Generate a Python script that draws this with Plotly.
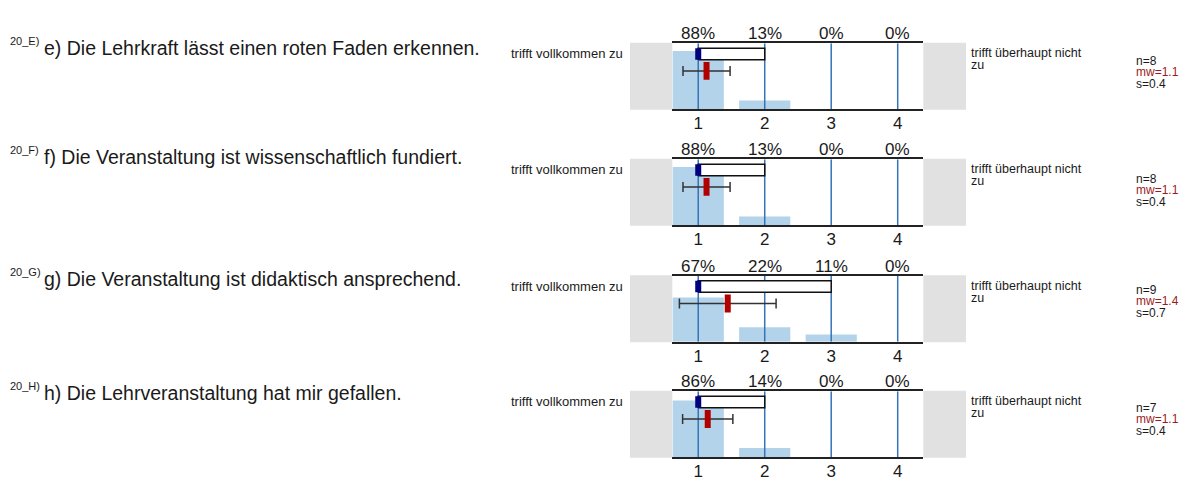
import plotly.graph_objects as go

# ---------------- data ----------------
codes = ["20_E)", "20_F)", "20_G)", "20_H)"]
questions = [
    "e) Die Lehrkraft lässt einen roten Faden erkennen.",
    "f) Die Veranstaltung ist wissenschaftlich fundiert.",
    "g) Die Veranstaltung ist didaktisch ansprechend.",
    "h) Die Lehrveranstaltung hat mir gefallen.",
]
categories = [1, 2, 3, 4]
tick_labels = ["1", "2", "3", "4"]
pct_e = [88, 13, 0, 0]
pct_f = [88, 13, 0, 0]
pct_g = [67, 22, 11, 0]
pct_h = [86, 14, 0, 0]
percents = [pct_e, pct_f, pct_g, pct_h]
n_values = [8, 8, 9, 7]
means = [1.125, 1.125, 1.444, 1.143]
sds = [0.354, 0.354, 0.727, 0.378]
mw_labels = ["1.1", "1.1", "1.4", "1.1"]
s_labels = ["0.4", "0.4", "0.7", "0.4"]
medians = [1, 1, 1, 1]
mins = [1, 1, 1, 1]
maxs = [2, 2, 3, 2]
left_label = "trifft vollkommen zu"
right_label = ["trifft überhaupt nicht", "zu"]

# ---------------- layout constants (page pixels) ----------------
PAGE_W, PAGE_H = 1189, 481
OX, OY = 8, 8            # default body margin of the html page
W, H = PAGE_W - OX, PAGE_H - OY
tops = [43.5, 160.5, 278.0, 394.5]
PH = 66.5
PX0, PX1 = 672.3, 923.3
q_centers = [48.5, 158.5, 281.0, 396.5]
n_y = [61, 180, 292, 411]
mw_y = [73, 192, 304, 423]
s_y = [85, 204, 316, 435]

FONT = "Arial, Liberation Sans, sans-serif"
BAR_C = "#b3d3ea"
VLINE_C = "#3574b9"
GREY = "#e1e1e1"
NAVY = "#00007f"
RED = "#b00000"
TXT = "#1a1a1a"


def px(x):
    return (x - OX) / W


def py(y):
    return 1 - (y - OY) / H


fig = go.Figure()
annotations = []
shapes = []

for i in range(4):
    xa = "x" if i == 0 else f"x{i+1}"
    ya = "y" if i == 0 else f"y{i+1}"
    top = tops[i]
    bot = top + PH

    # bars
    fig.add_trace(go.Bar(x=categories, y=percents[i], width=0.77,
                         marker=dict(color=BAR_C, line=dict(width=0)),
                         xaxis=xa, yaxis=ya, showlegend=False, hoverinfo="skip"))
    # vertical lines at categories
    vx, vy = [], []
    for c in categories:
        vx += [c, c, None]
        vy += [0, 100, None]
    fig.add_trace(go.Scatter(x=vx, y=vy, mode="lines",
                             line=dict(color=VLINE_C, width=1.5),
                             xaxis=xa, yaxis=ya, showlegend=False, hoverinfo="skip"))
    # range box (min..max)
    r0, r1 = 75, 92.5
    fig.add_trace(go.Scatter(x=[mins[i], maxs[i], maxs[i], mins[i], mins[i]],
                             y=[r0, r0, r1, r1, r0], mode="lines", fill="toself",
                             fillcolor="white", line=dict(color="#111", width=1.5),
                             xaxis=xa, yaxis=ya, showlegend=False, hoverinfo="skip"))
    # median marker
    fig.add_trace(go.Scatter(x=[medians[i], medians[i]], y=[r0, r1], mode="lines",
                             line=dict(color=NAVY, width=6),
                             xaxis=xa, yaxis=ya, showlegend=False, hoverinfo="skip"))
    # mean +- sd
    ey = 57.9
    fig.add_trace(go.Scatter(x=[means[i]], y=[ey], mode="markers",
                             marker=dict(size=1, color="rgba(0,0,0,0)"),
                             error_x=dict(type="data", array=[sds[i]], symmetric=True,
                                          color="#333", thickness=1.5, width=5),
                             xaxis=xa, yaxis=ya, showlegend=False, hoverinfo="skip"))
    fig.add_trace(go.Scatter(x=[means[i], means[i]], y=[44.4, 71.4], mode="lines",
                             line=dict(color=RED, width=6),
                             xaxis=xa, yaxis=ya, showlegend=False, hoverinfo="skip"))

    # axes
    xkey = "xaxis" if i == 0 else f"xaxis{i+1}"
    ykey = "yaxis" if i == 0 else f"yaxis{i+1}"
    fig.update_layout({
        xkey: dict(domain=[px(PX0), px(PX1)], anchor=ya, range=[0.61, 4.385],
                   tickvals=categories, ticktext=tick_labels, showgrid=False,
                   zeroline=False, showline=True, mirror=True, linecolor="#222",
                   linewidth=1.8, ticks="", ticklabelstandoff=-2,
                   tickfont=dict(family=FONT, size=17, color=TXT),
                   fixedrange=True),
        ykey: dict(domain=[py(bot), py(top)], anchor=xa, range=[0, 100], visible=False,
                   fixedrange=True),
    })

    # grey side boxes
    shapes.append(dict(type="rect", xref="paper", yref="paper", x0=px(630), x1=px(PX0),
                       y0=py(bot + 0.5), y1=py(top - 0.5), fillcolor=GREY, line=dict(width=0),
                       layer="below"))
    shapes.append(dict(type="rect", xref="paper", yref="paper", x0=px(PX1), x1=px(966),
                       y0=py(bot + 0.5), y1=py(top - 0.5), fillcolor=GREY, line=dict(width=0),
                       layer="below"))

    # percent labels
    for c, p in zip(categories, percents[i]):
        annotations.append(dict(x=c, y=py(top - 9.5), xref=xa, yref="paper",
                                text=f"{p}%", showarrow=False, xanchor="center",
                                yanchor="middle",
                                font=dict(family=FONT, size=17, color=TXT)))
    # question texts
    annotations.append(dict(x=px(42), y=py(q_centers[i]), xref="paper", yref="paper",
                            text=questions[i], showarrow=False, xanchor="left",
                            yanchor="middle", font=dict(family=FONT, size=19.5, color=TXT)))
    annotations.append(dict(x=px(8), y=py(q_centers[i] - 7), xref="paper", yref="paper",
                            text=codes[i], showarrow=False, xanchor="left",
                            yanchor="middle", font=dict(family=FONT, size=11, color=TXT)))
    # scale labels
    annotations.append(dict(x=px(509), y=py(top + 10.5), xref="paper", yref="paper",
                            text=left_label, showarrow=False, xanchor="left",
                            yanchor="middle", font=dict(family=FONT, size=13, color=TXT)))
    for k, line in enumerate(right_label):
        annotations.append(dict(x=px(969), y=py(top + 10 + 12 * k), xref="paper",
                                yref="paper", text=line, showarrow=False, xanchor="left",
                                yanchor="middle", font=dict(family=FONT, size=12.5, color=TXT)))
    # stats
    annotations.append(dict(x=px(1134), y=py(n_y[i]), xref="paper", yref="paper",
                            text=f"n={n_values[i]}", showarrow=False, xanchor="left",
                            yanchor="middle", font=dict(family=FONT, size=12, color=TXT)))
    annotations.append(dict(x=px(1134), y=py(mw_y[i]), xref="paper", yref="paper",
                            text=f"mw={mw_labels[i]}", showarrow=False, xanchor="left",
                            yanchor="middle", font=dict(family=FONT, size=12, color="#9b1c1c")))
    annotations.append(dict(x=px(1134), y=py(s_y[i]), xref="paper", yref="paper",
                            text=f"s={s_labels[i]}", showarrow=False, xanchor="left",
                            yanchor="middle", font=dict(family=FONT, size=12, color=TXT)))

fig.update_layout(width=W, height=H, margin=dict(l=0, r=0, t=0, b=0),
                  paper_bgcolor="white", plot_bgcolor="white", showlegend=False,
                  barmode="overlay", annotations=annotations, shapes=shapes)

fig.write_html("out.html", config={"displayModeBar": False})
